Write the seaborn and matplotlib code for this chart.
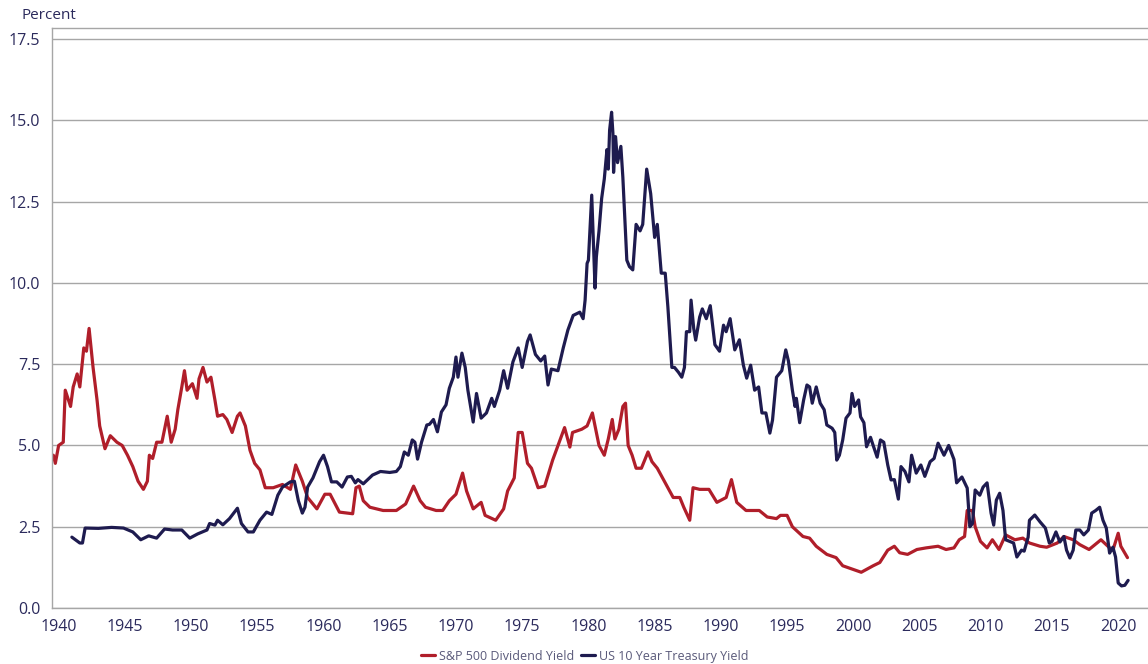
import matplotlib
matplotlib.use("Agg")
import matplotlib.pyplot as plt
import seaborn as sns
import pandas as pd

# S&P 500 dividend yield (red)
sp_years = [1939.6, 1939.75, 1940.0, 1940.35, 1940.5, 1940.9, 1941.1, 1941.4, 1941.6, 1941.9,
            1942.1, 1942.3, 1942.6, 1942.9, 1943.1, 1943.5, 1943.9, 1944.4, 1944.8, 1945.2,
            1945.6, 1946.0, 1946.4, 1946.7, 1946.85, 1947.1, 1947.4, 1947.8, 1948.2, 1948.5,
            1948.8, 1949.0, 1949.3, 1949.5, 1949.7, 1950.1, 1950.45, 1950.6, 1950.9, 1951.2,
            1951.5, 1951.8, 1952.0, 1952.4, 1952.7, 1953.1, 1953.5, 1953.7, 1954.1, 1954.45,
            1954.8, 1955.2, 1955.6, 1956.2, 1956.9, 1957.5, 1957.9, 1958.4, 1958.8, 1959.5,
            1960.1, 1960.5, 1961.2, 1962.2, 1962.45, 1962.7, 1963.0, 1963.5, 1964.5, 1965.5,
            1966.2, 1966.8, 1967.3, 1967.7, 1968.5, 1969.0, 1969.5, 1970.0, 1970.5, 1970.8,
            1971.3, 1971.9, 1972.2, 1973.0, 1973.6, 1973.9, 1974.4, 1974.7, 1975.0, 1975.4,
            1975.7, 1976.2, 1976.7, 1977.3, 1978.2, 1978.6, 1978.8, 1979.5, 1979.9, 1980.3,
            1980.8, 1981.2, 1981.5, 1981.8, 1982.0, 1982.3, 1982.6, 1982.8, 1983.0, 1983.3,
            1983.6, 1984.0, 1984.5, 1984.8, 1985.2, 1985.6, 1986.0, 1986.4, 1986.9, 1987.2,
            1987.65, 1987.9, 1988.4, 1989.1, 1989.7, 1990.4, 1990.8, 1991.2, 1991.9, 1992.9,
            1993.5, 1994.2, 1994.5, 1995.0, 1995.4, 1996.2, 1996.7, 1997.2, 1998.0, 1998.7,
            1999.2, 1999.9, 2000.6, 2001.5, 2002.0, 2002.6, 2003.1, 2003.5, 2004.1, 2004.8,
            2005.5, 2006.4, 2007.0, 2007.6, 2008.0, 2008.4, 2008.6, 2009.0, 2009.2, 2009.6,
            2010.1, 2010.5, 2011.0, 2011.5, 2012.2, 2012.8, 2013.3, 2014.1, 2014.6, 2015.4,
            2015.9, 2016.6, 2017.1, 2017.8, 2018.7, 2019.3, 2019.6, 2020.0, 2020.2, 2020.7]
sp_yield = [4.7, 4.45, 5.0, 5.1, 6.7, 6.2, 6.8, 7.2, 6.8, 8.0,
            7.9, 8.6, 7.4, 6.4, 5.6, 4.9, 5.3, 5.1, 5.0, 4.7,
            4.35, 3.9, 3.65, 3.9, 4.7, 4.6, 5.1, 5.1, 5.9, 5.1,
            5.5, 6.1, 6.8, 7.3, 6.7, 6.9, 6.45, 7.05, 7.4, 6.95,
            7.1, 6.4, 5.9, 5.95, 5.8, 5.4, 5.9, 6.0, 5.6, 4.85,
            4.45, 4.25, 3.7, 3.7, 3.8, 3.65, 4.4, 3.9, 3.4, 3.05,
            3.5, 3.5, 2.95, 2.9, 3.7, 3.75, 3.3, 3.1, 3.0, 3.0,
            3.2, 3.75, 3.3, 3.1, 3.0, 3.0, 3.3, 3.5, 4.15, 3.6,
            3.05, 3.25, 2.85, 2.7, 3.05, 3.6, 4.0, 5.4, 5.4, 4.45,
            4.3, 3.7, 3.75, 4.55, 5.55, 4.95, 5.4, 5.5, 5.6, 6.0,
            5.0, 4.7, 5.2, 5.8, 5.2, 5.5, 6.2, 6.3, 5.0, 4.7,
            4.3, 4.3, 4.8, 4.5, 4.3, 4.0, 3.7, 3.4, 3.4, 3.1,
            2.7, 3.7, 3.65, 3.65, 3.25, 3.4, 3.95, 3.25, 3.0, 3.0,
            2.8, 2.75, 2.85, 2.85, 2.5, 2.2, 2.15, 1.9, 1.65, 1.55,
            1.3, 1.2, 1.1, 1.3, 1.4, 1.78, 1.9, 1.7, 1.65, 1.8,
            1.85, 1.9, 1.8, 1.85, 2.1, 2.2, 3.0, 3.0, 2.5, 2.05,
            1.85, 2.1, 1.8, 2.25, 2.1, 2.15, 2.0, 1.9, 1.87, 2.0,
            2.2, 2.1, 1.95, 1.8, 2.1, 1.87, 1.78, 2.3, 1.9, 1.55]

# US 10 year treasury yield (navy)
ty_years = [1941.0, 1941.6, 1941.8, 1942.0, 1943.0, 1944.0, 1944.9, 1945.6, 1946.2, 1946.8,
            1947.4, 1948.0, 1948.6, 1949.3, 1949.9, 1950.5, 1951.2, 1951.4, 1951.8, 1952.0,
            1952.4, 1952.9, 1953.5, 1953.8, 1954.3, 1954.7, 1955.2, 1955.7, 1956.1, 1956.3,
            1956.55, 1956.9, 1957.5, 1957.8, 1958.1, 1958.4, 1958.6, 1958.8, 1959.2, 1959.7,
            1960.0, 1960.3, 1960.6, 1961.0, 1961.4, 1961.8, 1962.1, 1962.4, 1962.6, 1963.0,
            1963.7, 1964.3, 1965.0, 1965.5, 1965.8, 1966.1, 1966.4, 1966.7, 1966.9, 1967.1,
            1967.4, 1967.8, 1968.0, 1968.3, 1968.6, 1968.9, 1969.25, 1969.5, 1969.8, 1970.0,
            1970.15, 1970.45, 1970.7, 1970.9, 1971.3, 1971.55, 1971.9, 1972.3, 1972.7, 1972.9,
            1973.3, 1973.6, 1973.9, 1974.3, 1974.7, 1975.0, 1975.4, 1975.6, 1976.0, 1976.4,
            1976.7, 1976.95, 1977.2, 1977.7, 1978.1, 1978.45, 1978.85, 1979.35, 1979.6, 1979.75,
            1979.9, 1980.0, 1980.25, 1980.5, 1980.6, 1980.8, 1981.0, 1981.2, 1981.4, 1981.5,
            1981.6, 1981.75, 1981.85, 1981.9, 1982.05, 1982.2, 1982.45, 1982.6, 1982.9, 1983.1,
            1983.35, 1983.6, 1983.9, 1984.1, 1984.4, 1984.7, 1985.0, 1985.2, 1985.5, 1985.8,
            1986.0, 1986.3, 1986.5, 1986.8, 1987.05, 1987.25, 1987.4, 1987.65, 1987.75, 1987.95,
            1988.1, 1988.4, 1988.6, 1988.9, 1989.2, 1989.55, 1989.9, 1990.2, 1990.4, 1990.7,
            1991.05, 1991.4, 1991.7, 1991.95, 1992.25, 1992.55, 1992.85, 1993.1, 1993.4, 1993.7,
            1993.9, 1994.2, 1994.6, 1994.9, 1995.1, 1995.4, 1995.6, 1995.7, 1995.95, 1996.25,
            1996.5, 1996.7, 1996.9, 1997.2, 1997.5, 1997.8, 1998.0, 1998.4, 1998.6, 1998.75,
            1998.95, 1999.2, 1999.45, 1999.75, 1999.9, 2000.1, 2000.4, 2000.55, 2000.8, 2001.0,
            2001.3, 2001.5, 2001.8, 2002.05, 2002.3, 2002.6, 2002.85, 2003.1, 2003.4, 2003.6,
            2003.9, 2004.2, 2004.4, 2004.75, 2005.1, 2005.4, 2005.8, 2006.1, 2006.4, 2006.85,
            2007.2, 2007.6, 2007.8, 2008.2, 2008.6, 2008.8, 2009.0, 2009.2, 2009.55, 2009.8,
            2010.1, 2010.4, 2010.6, 2010.8, 2011.05, 2011.3, 2011.5, 2011.8, 2012.1, 2012.35,
            2012.7, 2012.9, 2013.2, 2013.3, 2013.7, 2014.1, 2014.5, 2014.8, 2015.0, 2015.3,
            2015.6, 2015.9, 2016.1, 2016.35, 2016.6, 2016.8, 2017.1, 2017.4, 2017.75, 2018.0,
            2018.3, 2018.6, 2018.85, 2019.1, 2019.35, 2019.6, 2019.8, 2020.0, 2020.25, 2020.5,
            2020.75]
ty_yield = [2.18, 2.0, 2.0, 2.46, 2.45, 2.48, 2.46, 2.34, 2.1, 2.22,
            2.15, 2.43, 2.4, 2.4, 2.15, 2.28, 2.4, 2.6, 2.55, 2.7,
            2.56, 2.75, 3.07, 2.6, 2.34, 2.34, 2.7, 2.95, 2.88, 3.14,
            3.47, 3.72, 3.88, 3.9, 3.3, 2.92, 3.1, 3.72, 4.0, 4.5,
            4.7, 4.35, 3.88, 3.88, 3.72, 4.03, 4.05, 3.85, 3.95, 3.82,
            4.09, 4.2, 4.17, 4.2, 4.35, 4.8, 4.7, 5.17, 5.1, 4.58,
            5.1, 5.63, 5.65, 5.8, 5.42, 6.03, 6.25, 6.76, 7.1, 7.72,
            7.1, 7.84, 7.4, 6.7, 5.72, 6.6, 5.84, 6.0, 6.45, 6.2,
            6.7, 7.3, 6.76, 7.57, 8.0, 7.4, 8.2, 8.4, 7.8, 7.6,
            7.75, 6.86, 7.35, 7.3, 8.0, 8.55, 9.0, 9.1, 8.9, 9.47,
            10.6, 10.7, 12.7, 9.84, 10.8, 11.6, 12.6, 13.2, 14.1, 13.5,
            14.7, 15.25, 14.6, 13.4, 14.5, 13.7, 14.2, 13.25, 10.7, 10.5,
            10.4, 11.8, 11.6, 11.8, 13.5, 12.75, 11.4, 11.8, 10.3, 10.3,
            9.26, 7.4, 7.4, 7.25, 7.1, 7.4, 8.5, 8.5, 9.47, 8.6,
            8.24, 8.95, 9.2, 8.9, 9.3, 8.1, 7.9, 8.7, 8.5, 8.9,
            7.94, 8.25, 7.47, 7.07, 7.47, 6.7, 6.8, 6.0, 6.0, 5.38,
            5.78, 7.1, 7.3, 7.94, 7.6, 6.7, 6.2, 6.45, 5.7, 6.4,
            6.86, 6.8, 6.3, 6.8, 6.3, 6.1, 5.63, 5.53, 5.4, 4.55,
            4.7, 5.17, 5.84, 6.0, 6.6, 6.2, 6.4, 5.88, 5.7, 4.96,
            5.25, 5.0, 4.64, 5.17, 5.1, 4.4, 3.94, 3.95, 3.35, 4.35,
            4.2, 3.88, 4.7, 4.15, 4.4, 4.05, 4.5, 4.6, 5.07, 4.7,
            5.0, 4.57, 3.85, 4.03, 3.69, 2.5, 2.6, 3.63, 3.47, 3.72,
            3.85, 2.92, 2.55, 3.32, 3.53, 3.0, 2.1, 2.05, 2.0, 1.57,
            1.78, 1.75, 2.18, 2.7, 2.86, 2.65, 2.46, 2.0, 2.05, 2.34,
            2.03, 2.2, 1.78, 1.54, 1.78, 2.4, 2.4, 2.25, 2.4, 2.92,
            3.0, 3.1, 2.7, 2.46, 1.69, 1.87, 1.57, 0.77, 0.68, 0.7,
            0.85]

series_names = ["S&P 500 Dividend Yield", "US 10 Year Treasury Yield"]
x_ticks = list(range(1940, 2021, 5))
y_ticks = [0.0, 2.5, 5.0, 7.5, 10.0, 12.5, 15.0, 17.5]

RED = "#B01E2A"
NAVY = "#1E1B4F"
TEXT = "#2B2A5C"
GRID = "#A6A6A6"

df = pd.concat([
    pd.DataFrame({"year": sp_years, "value": sp_yield, "series": series_names[0]}),
    pd.DataFrame({"year": ty_years, "value": ty_yield, "series": series_names[1]}),
])

sns.set_style("white")
plt.rcParams["font.family"] = ["Open Sans", "DejaVu Sans"]

fig = plt.figure(figsize=(11.48, 6.64), dpi=100)
ax = fig.add_axes([0.0453, 0.0843, 0.9547, 0.8735])

sns.lineplot(data=df, x="year", y="value", hue="series", hue_order=series_names,
             palette={series_names[0]: RED, series_names[1]: NAVY},
             linewidth=2.3, ax=ax, sort=True, estimator=None)

ax.set_xlim(1939.5, 2022.25)
ax.set_ylim(0, 17.84)
ax.set_xticks(x_ticks)
ax.set_yticks(y_ticks)
ax.set_yticklabels([f"{v:.1f}" for v in y_ticks])
ax.set_xlabel("")
ax.set_ylabel("")

ax.yaxis.grid(True, color=GRID, linewidth=1.0)
ax.xaxis.grid(False)
ax.set_axisbelow(True)

for side in ["left", "bottom", "top"]:
    ax.spines[side].set_color(GRID)
    ax.spines[side].set_linewidth(1.0)
ax.spines["right"].set_visible(False)

ax.tick_params(axis="y", length=0, pad=8.5, labelsize=11.5, labelcolor=TEXT)
ax.tick_params(axis="x", length=5, width=1, color=GRID, pad=3, labelsize=11.5, labelcolor=TEXT)

fig.text(0.019, 0.977, "Percent", ha="left", va="center", fontsize=11, color=TEXT)

handles, labels = ax.get_legend_handles_labels()
ax.legend(handles, labels, loc="center", bbox_to_anchor=(0.486, -0.083),
          ncol=2, frameon=False, fontsize=9, handlelength=1.1, handletextpad=0.3,
          columnspacing=0.6, labelcolor="#5A5A7A")

fig.savefig("out.png", dpi=100)
